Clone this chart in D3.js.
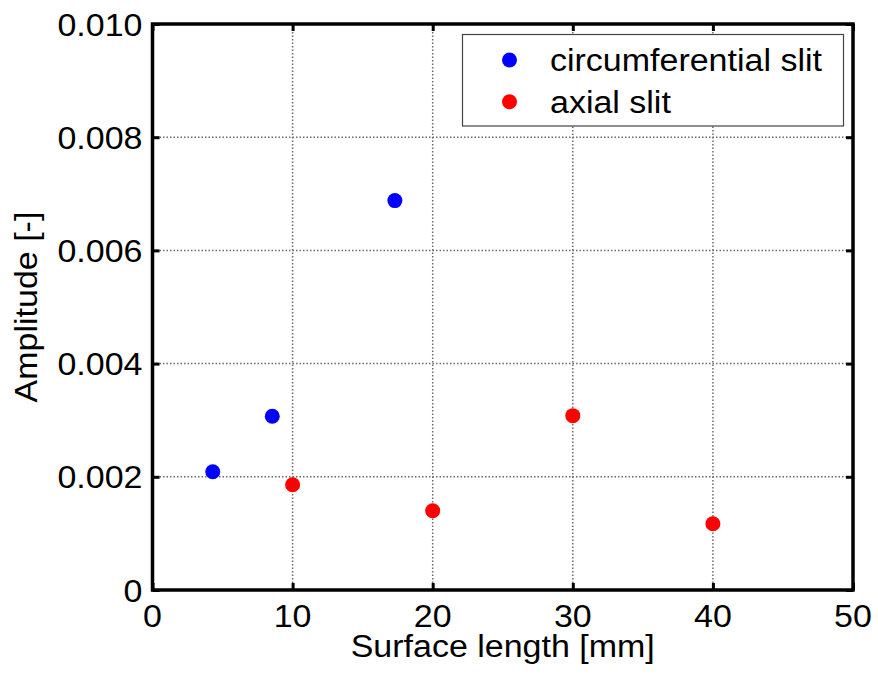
<!DOCTYPE html>
<html>
<head>
<meta charset="utf-8">
<script src="https://cdn.jsdelivr.net/npm/d3@7"></script>
<style>
  html, body { margin: 0; padding: 0; background: #fff; }
  svg { display: block; }
  text { font-family: "Liberation Sans", Arial, sans-serif; fill: #000; }
</style>
</head>
<body>
<div id="chart"></div>
<script>
// Measured amplitudes against surface length for two slit orientations
const circX = [4.3, 8.55, 17.3];
const circY = [0.00209, 0.00307, 0.00688];
const axialX = [10, 20, 30, 40];
const axialY = [0.00186, 0.00140, 0.00308, 0.00117];

const xTicks = [0, 10, 20, 30, 40, 50];
const yTicks = [0, 0.002, 0.004, 0.006, 0.008, 0.010];
const seriesNames = ["circumferential slit", "axial slit"];
const seriesColors = ["#0000ff", "#ff0000"];

const W = 878, H = 680;
const m = { left: 152.5, right: 25, top: 24, bottom: 90 };
const FS = 34;           // font size in px
const SQ = 0.9;          // vertical squeeze applied to glyphs

const svg = d3.select("#chart").append("svg").attr("width", W).attr("height", H);

const x = d3.scaleLinear().domain([0, 50]).range([m.left, W - m.right]);
const y = d3.scaleLinear().domain([0, 0.010]).range([H - m.bottom, m.top]);

const x0 = x.range()[0], x1 = x.range()[1];
const y0 = y.range()[0], y1 = y.range()[1];

// dotted grid
const grid = svg.append("g");
grid.selectAll("line.gx").data(xTicks.slice(1, -1)).join("line")
  .attr("x1", d => x(d)).attr("x2", d => x(d)).attr("y1", y0).attr("y2", y1)
  .attr("stroke", "#6a6a6a").attr("stroke-width", 1.5).attr("stroke-dasharray", "1.5,2");
grid.selectAll("line.gy").data(yTicks.slice(1, -1)).join("line")
  .attr("y1", d => y(d)).attr("y2", d => y(d)).attr("x1", x0).attr("x2", x1)
  .attr("stroke", "#6a6a6a").attr("stroke-width", 1.5).attr("stroke-dasharray", "1.5,2");

// axes with inward ticks on all four sides
const tickLen = 7;
const axB = d3.axisBottom(x).tickValues(xTicks).tickSize(-tickLen).tickFormat("");
const axT = d3.axisTop(x).tickValues(xTicks).tickSize(-tickLen).tickFormat("");
const axL = d3.axisLeft(y).tickValues(yTicks).tickSize(-tickLen).tickFormat("");
const axR = d3.axisRight(y).tickValues(yTicks).tickSize(-tickLen).tickFormat("");

function styleAxis(g) {
  g.select(".domain").remove();
  g.selectAll(".tick line").attr("stroke", "#000").attr("stroke-width", 3);
}
svg.append("g").attr("transform", `translate(0,${y0})`).call(axB).call(styleAxis);
svg.append("g").attr("transform", `translate(0,${y1})`).call(axT).call(styleAxis);
svg.append("g").attr("transform", `translate(${x0},0)`).call(axL).call(styleAxis);
svg.append("g").attr("transform", `translate(${x1},0)`).call(axR).call(styleAxis);

// frame
svg.append("rect")
  .attr("x", x0).attr("y", y1).attr("width", x1 - x0).attr("height", y0 - y1)
  .attr("fill", "none").attr("stroke", "#000").attr("stroke-width", 3.5);

// text helper
function label(tx, ty, str, anchor, rot) {
  const r = rot ? ` rotate(${rot})` : "";
  return svg.append("text")
    .attr("transform", `translate(${tx},${ty})${r} scale(1,${SQ})`)
    .attr("text-anchor", anchor)
    .style("font-size", FS + "px")
    .text(str);
}

// tick labels
xTicks.forEach(t => label(x(t), 627, d3.format("d")(t), "middle"));
yTicks.forEach(t => label(x0 - 10, y(t) + 11.5, t === 0 ? "0" : d3.format(".3f")(t), "end"));

// axis titles
label((x0 + x1) / 2, 657, "Surface length [mm]", "middle");
label(37, (y0 + y1) / 2, "Amplitude [-]", "middle", -90);

// points
const pts = svg.append("g");
pts.selectAll("circle.c").data(circX.map((d, i) => [d, circY[i]])).join("circle")
  .attr("cx", d => x(d[0])).attr("cy", d => y(d[1])).attr("r", 7.5)
  .attr("fill", seriesColors[0]);
pts.selectAll("circle.a").data(axialX.map((d, i) => [d, axialY[i]])).join("circle")
  .attr("cx", d => x(d[0])).attr("cy", d => y(d[1])).attr("r", 7.5)
  .attr("fill", seriesColors[1]);

// legend
const lg = svg.append("g");
lg.append("rect")
  .attr("x", 462.5).attr("y", 34.5).attr("width", 381).attr("height", 91.5)
  .attr("fill", "#fff").attr("stroke", "#444").attr("stroke-width", 1.2);
const rowY = [60, 101.7];
seriesNames.forEach((name, i) => {
  lg.append("circle").attr("cx", 509.5).attr("cy", rowY[i]).attr("r", 7.5)
    .attr("fill", seriesColors[i]);
  label(550, rowY[i] + 11, name, "start");
});
</script>
</body>
</html>
